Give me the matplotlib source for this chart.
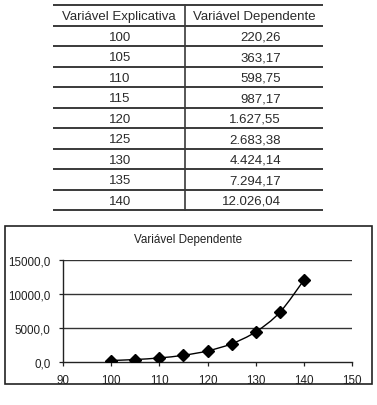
import matplotlib
matplotlib.use("Agg")
import matplotlib.pyplot as plt
from matplotlib.path import Path
from matplotlib.patches import PathPatch, Rectangle
import numpy as np

plt.rcParams['font.family'] = ['Liberation Sans', 'DejaVu Sans']

x_vals = [100, 105, 110, 115, 120, 125, 130, 135, 140]
y_vals = [220.26, 363.17, 598.75, 987.17, 1627.55, 2683.38, 4424.14, 7294.17, 12026.04]
y_labels = ['220,26', '363,17', '598,75', '987,17', '1.627,55', '2.683,38', '4.424,14', '7.294,17', '12.026,04']
headers = ['Variável Explicativa', 'Variável Dependente']
chart_title = 'Variável Dependente'
xticks = [90, 100, 110, 120, 130, 140, 150]
yticks = [0, 5000, 10000, 15000]

W, H = 377, 406
fig = plt.figure(figsize=(W / 100, H / 100), dpi=100)

# overlay in pixel coordinates
ov = fig.add_axes([0, 0, 1, 1])
ov.set_xlim(0, W)
ov.set_ylim(H, 0)
ov.axis('off')

# table
lc = '#3a3a3a'
row_tops = [6, 26.5, 47, 67.5, 88, 108.5, 129, 149.5, 170, 190.5, 211]
for yy in row_tops:
    ov.plot([53, 323], [yy, yy], color=lc, lw=1.4, solid_capstyle='butt')
ov.plot([185, 185], [row_tops[0], row_tops[-1]], color=lc, lw=1.2)
fs = 9.5
tc = '#2a2a2a'
ov.text(119, 17, headers[0], ha='center', va='center', fontsize=fs, color=tc)
ov.text(254, 17, headers[1], ha='center', va='center', fontsize=fs, color=tc)
for i, (xv, lab) in enumerate(zip(x_vals, y_labels)):
    yc = (row_tops[i + 1] + row_tops[i + 2]) / 2 + 0.8
    ov.text(120, yc, str(xv), ha='center', va='center', fontsize=fs, color=tc)
    ov.text(281, yc, lab, ha='right', va='center', fontsize=fs, color=tc)

# chart frame
ov.add_patch(Rectangle((5, 227), 367, 158, fill=False, edgecolor='#222222', lw=1.2))
ov.text(188, 240, chart_title, ha='center', va='center', fontsize=8.4, color='#222222')

# chart axes
ax = fig.add_axes([63 / W, (H - 363) / H, (352 - 63) / W, (363 - 261) / H])
ax.set_xlim(90, 150)
ax.set_ylim(0, 15000)
ax.patch.set_visible(False)
for s in ['top', 'right']:
    ax.spines[s].set_visible(False)
ax.spines['left'].set_color('#222222')
ax.spines['bottom'].set_color('#222222')
ax.spines['left'].set_linewidth(1.0)
ax.spines['bottom'].set_linewidth(1.0)
ax.set_xticks(xticks)
ax.set_yticks(yticks)
ax.set_xticklabels([str(t) for t in xticks], fontsize=8.4, color='#222222')
ax.set_yticklabels([f'{t},0' for t in yticks], fontsize=8.4, color='#222222')
ax.tick_params(axis='both', direction='out', length=3, width=0.9, color='#222222')
ax.tick_params(axis='y', pad=6)
ax.tick_params(axis='x', pad=6)
for t in yticks[1:]:
    ax.axhline(t, color='#333333', lw=1.0, zorder=1)

# smooth curve via Catmull-Rom Bezier path
pts = np.column_stack([x_vals, y_vals])
verts = [tuple(pts[0])]
codes = [Path.MOVETO]
n = len(pts)
for i in range(n - 1):
    p0 = pts[i - 1] if i > 0 else pts[i]
    p1 = pts[i]
    p2 = pts[i + 1]
    p3 = pts[i + 2] if i + 2 < n else pts[i + 1]
    c1 = p1 + (p2 - p0) / 6
    c2 = p2 - (p3 - p1) / 6
    verts += [tuple(c1), tuple(c2), tuple(p2)]
    codes += [Path.CURVE4] * 3
ax.add_patch(PathPatch(Path(verts, codes), fill=False, edgecolor='black', lw=1.0, zorder=2))
ax.plot(x_vals, y_vals, linestyle='none', marker='D', markersize=6.5, color='black', zorder=3)

fig.savefig('out.png', dpi=100)
